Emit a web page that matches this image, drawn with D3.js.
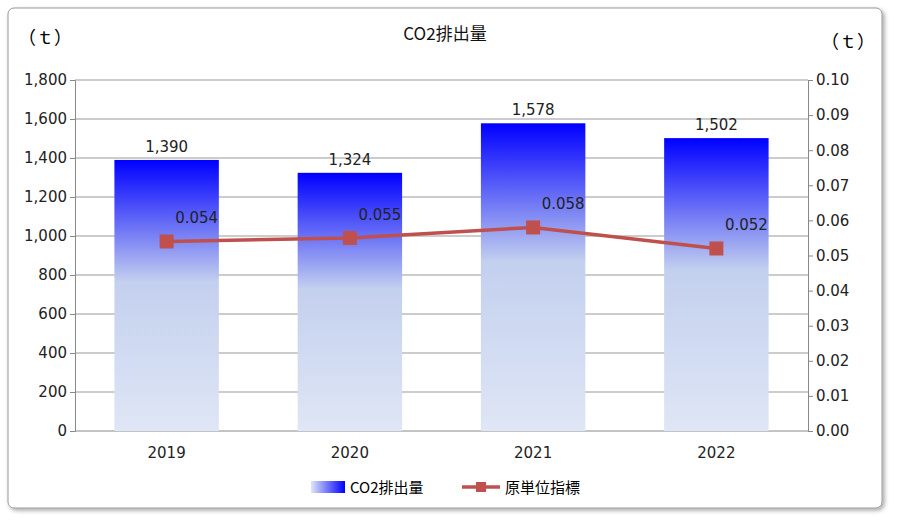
<!DOCTYPE html><html><head><meta charset="utf-8"><script src="https://d3js.org/d3.v7.min.js"></script>
<style>body{margin:0;background:#fff}text{font-family:"Noto Sans CJK JP","DejaVu Sans",sans-serif}</style></head><body><svg id="c" width="901" height="521"></svg><script>
const years=["2019","2020","2021","2022"];
const co2=[1390,1324,1578,1502];
const co2Labels=["1,390","1,324","1,578","1,502"];
const intensity=[0.054,0.055,0.058,0.052];
const leftTicks=[0,200,400,600,800,1000,1200,1400,1600,1800];
const rightTicks=[0,0.01,0.02,0.03,0.04,0.05,0.06,0.07,0.08,0.09,0.10];
const svg=d3.select("#c");
const defs=svg.append("defs");
const f=defs.append("filter").attr("id","sh");f.append("feDropShadow").attr("dx",2).attr("dy",2).attr("stdDeviation",2).attr("flood-opacity",0.35);
const g=defs.append("linearGradient").attr("id","bg").attr("x1",0).attr("y1",0).attr("x2",0).attr("y2",1);
g.append("stop").attr("offset","0").attr("stop-color","#0000ff");
g.append("stop").attr("offset","0.45").attr("stop-color","#c3d0ee");
g.append("stop").attr("offset","1").attr("stop-color","#dfe6f5");
const lg=defs.append("linearGradient").attr("id","lg").attr("x1",0).attr("y1",0).attr("x2",1).attr("y2",0);
lg.append("stop").attr("offset","0").attr("stop-color","#dfe6f5");lg.append("stop").attr("offset","1").attr("stop-color","#0000ff");
svg.append("rect").attr("x",8).attr("y",8).attr("width",874).attr("height",500).attr("rx",6).attr("fill","#fff").attr("stroke","#999").attr("filter","url(#sh)");
const L=75,R=808,T=80,B=431;
const x=d3.scaleBand().domain(years).range([L,R]).paddingInner(0.43).paddingOuter(0.215);
const y=d3.scaleLinear().domain([0,1800]).range([B,T]);
const y2=d3.scaleLinear().domain([0,0.1]).range([B,T]);
svg.append("g").selectAll("line").data(leftTicks.slice(1)).join("line").attr("x1",L).attr("x2",R).attr("y1",d=>y(d)).attr("y2",d=>y(d)).attr("stroke","#999");
const ga=svg.append("g").attr("transform",`translate(${L},0)`).call(d3.axisLeft(y).tickValues(leftTicks).tickFormat(d3.format(",")).tickSize(5));
const gb=svg.append("g").attr("transform",`translate(${R},0)`).call(d3.axisRight(y2).tickValues(rightTicks).tickFormat(d3.format(".2f")).tickSize(5));
const gx=svg.append("g").attr("transform",`translate(0,${B})`).call(d3.axisBottom(x).tickSize(0).tickPadding(16));
gx.append("line").attr("x1",L).attr("x2",R).attr("stroke","#888");
[ga,gb,gx].forEach(a=>{a.selectAll("path").attr("stroke","#888");a.selectAll(".tick line").attr("stroke","#888");a.selectAll("text").attr("font-size",15).attr("fill","#222").style("font-family","DejaVu Sans")});
gx.select(".domain").remove();
svg.append("g").selectAll("rect").data(co2).join("rect").attr("x",(d,i)=>x(years[i])).attr("width",x.bandwidth()).attr("y",d=>y(d)).attr("height",d=>B-y(d)).attr("fill","url(#bg)");
svg.append("g").selectAll("text").data(co2).join("text").attr("x",(d,i)=>x(years[i])+x.bandwidth()/2).attr("y",d=>y(d)-8).attr("text-anchor","middle").attr("font-size",15).attr("fill","#222").style("font-family","DejaVu Sans").text((d,i)=>co2Labels[i]);
const cx=i=>x(years[i])+x.bandwidth()/2;
svg.append("path").datum(intensity).attr("d",d3.line().x((d,i)=>cx(i)).y(d=>y2(d))).attr("fill","none").attr("stroke","#c0504d").attr("stroke-width",3.5);
svg.append("g").selectAll("rect").data(intensity).join("rect").attr("x",(d,i)=>cx(i)-7).attr("y",d=>y2(d)-7).attr("width",14).attr("height",14).attr("fill","#c0504d");
svg.append("g").selectAll("text").data(intensity).join("text").attr("x",(d,i)=>cx(i)+30).attr("y",d=>y2(d)-18).attr("text-anchor","middle").attr("font-size",15).attr("fill","#222").style("font-family","DejaVu Sans").text(d=>d3.format(".3f")(d));
svg.append("text").attr("x",445).attr("y",40).attr("text-anchor","middle").attr("font-size",17).attr("fill","#111").text("CO2排出量");
svg.append("text").attr("x",45).attr("y",44).attr("text-anchor","middle").attr("font-size",18).text("（ｔ）");
svg.append("text").attr("x",848).attr("y",48).attr("text-anchor","middle").attr("font-size",18).text("（ｔ）");
svg.append("rect").attr("x",311).attr("y",481).attr("width",34).attr("height",12).attr("fill","url(#lg)");
svg.append("text").attr("x",350).attr("y",493).attr("font-size",15).text("CO2排出量");
svg.append("line").attr("x1",462).attr("x2",500).attr("y1",487).attr("y2",487).attr("stroke","#c0504d").attr("stroke-width",3.5);
svg.append("rect").attr("x",476).attr("y",482).attr("width",10).attr("height",10).attr("fill","#c0504d");
svg.append("text").attr("x",505).attr("y",493).attr("font-size",15).text("原単位指標");
</script></body></html>
